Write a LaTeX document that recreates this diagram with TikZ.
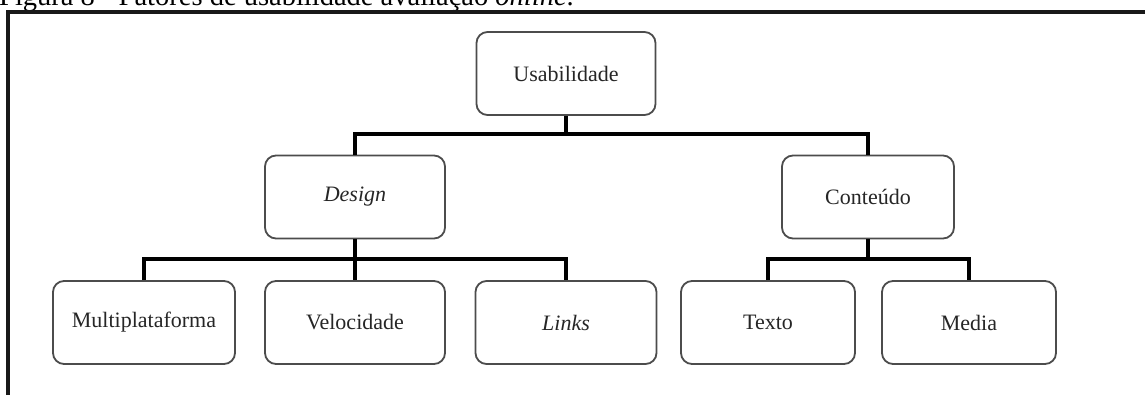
\documentclass[tikz,border=0pt]{standalone}
\usepackage{fontspec}
\setmainfont{Liberation Serif}
\begin{document}
\begin{tikzpicture}[x=1pt,y=-1pt,
  box/.style={draw=black!70, line width=1.8pt, rounded corners=11pt, fill=white,
    minimum height=83pt, inner sep=0pt, font=\fontsize{22}{26}\selectfont, text=black!85},
  conn/.style={draw=black, line width=4.5pt, line join=miter},
  frame/.style={draw=black!90, line width=4pt}]
\useasboundingbox (0,0) rectangle (1145,394);
% caption (partly cut at the top, as in the reference)
\node[anchor=base west, inner sep=0pt, font=\fontsize{28.5}{30}\selectfont] (cap) at (-1,5)
  {Figura 8 - Fatores de usabilidade avaliação \textit{online}.};
% frame
\coordinate (fr1) at (8,396);
\coordinate (fr2) at (8,12);
\coordinate (fr3) at (1147,12);
\draw[frame] (fr1) -- (fr2) -- (fr3);
% nodes
\node[box, minimum width=179pt] (u) at (566,73.5) {Usabilidade};
\node[box, minimum width=180pt] (d) at (355,197) {\textit{Design}};
\node[box, minimum width=172pt] (c) at (868,197) {Conteúdo};
\node[box, minimum width=182pt] (m) at (144,322.5) {Multiplataforma};
\node[box, minimum width=180pt] (v) at (355,322.5) {Velocidade};
\node[box, minimum width=181pt] (l) at (566,322.5) {\textit{Links}};
\node[box, minimum width=174pt] (t) at (768,322.5) {Texto};
\node[box, minimum width=174pt] (me) at (969,322.5) {Media};
% connectors
\coordinate (j1) at (566,134);
\coordinate (j2) at (355,259);
\coordinate (j3) at (868,259);
\draw[conn] (u.south) -- (j1);
\draw[conn] (d.north) |- (j1) -| (c.north);
\draw[conn] (d.south) -- (v.north);
\draw[conn] (m.north) |- (j2) -| (l.north);
\draw[conn] (c.south) -- (j3);
\draw[conn] (t.north) |- (j3) -| (me.north);
\end{tikzpicture}
\end{document}
